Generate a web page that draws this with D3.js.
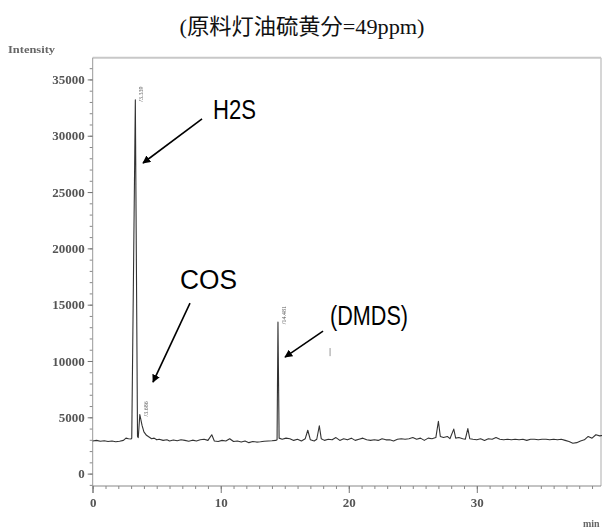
<!DOCTYPE html>
<html>
<head>
<meta charset="utf-8">
<script src="https://cdn.jsdelivr.net/npm/d3@7"></script>
<style>
  body { margin: 0; background: #fff; }
  svg { display: block; }
</style>
</head>
<body>
<div id="chart"></div>
<script>
// Chromatogram (sulfur detector)
const titleText = '(原料灯油硫黄分=49ppm)';

// [retention time (min), intensity]
const tracePoints = [
  [0, 2900], [0.3, 2950], [0.6, 2880], [0.9, 2920], [1.2, 2850], [1.5, 2900], [1.8, 2830],
  [2.1, 2880], [2.4, 2950], [2.6, 3150], [2.8, 3100], [3.0, 3080],
  [3.05, 3150], [3.33, 33200], [3.5, 3300], [3.56, 3200],
  [3.68, 5250], [3.85, 4300], [4.0, 3700], [4.2, 3400], [4.4, 3250], [4.6, 3100], [4.8, 3150],
  [5.0, 3000], [5.2, 3050], [5.5, 2950], [5.8, 3000], [6.0, 2900], [6.3, 2980], [6.6, 2920],
  [6.9, 3000], [7.2, 2950], [7.5, 2880], [7.8, 2970], [8.1, 2900], [8.4, 3000], [8.7, 3050],
  [9.0, 2950], [9.3, 3450], [9.5, 2900], [9.8, 2850], [10.1, 2950], [10.4, 2900], [10.7, 3100],
  [11.0, 2850], [11.3, 2900], [11.6, 2800], [11.9, 2900], [12.2, 2750], [12.5, 2850], [12.8, 2800],
  [13.1, 2830], [13.4, 2880], [13.7, 2900], [14.0, 2920], [14.3, 2950],
  [14.40, 3000], [14.47, 13450], [14.56, 3150],
  [14.8, 3050], [15.1, 3150], [15.4, 3100], [15.7, 2950], [16.0, 3050], [16.3, 2900], [16.6, 3100],
  [16.8, 3850], [17.0, 3000], [17.3, 2900], [17.5, 3050], [17.7, 4250], [17.85, 3100], [18.1, 2950],
  [18.4, 3050], [18.7, 3000], [19.0, 3200], [19.3, 2950], [19.6, 3100], [19.9, 3000], [20.2, 3150],
  [20.5, 2950], [20.8, 3050], [21.1, 3150], [21.4, 3000], [21.7, 2950], [22.0, 3000], [22.3, 2950],
  [22.6, 3100], [22.9, 3000], [23.2, 3000], [23.5, 2900], [23.8, 3050], [24.1, 3100], [24.4, 3050],
  [24.7, 3100], [25.0, 3200], [25.3, 3050], [25.6, 3150], [25.9, 2950], [26.2, 3150], [26.5, 3100],
  [26.8, 3200], [27.0, 4650], [27.15, 3300], [27.4, 3200], [27.7, 3300], [27.9, 3100], [28.2, 3950],
  [28.35, 3150], [28.6, 3200], [28.9, 3100], [29.1, 3050], [29.3, 4000], [29.45, 3100], [29.7, 3050],
  [30.0, 3000], [30.3, 3100], [30.6, 2950], [30.9, 3100], [31.2, 3050], [31.5, 3200], [31.8, 3050],
  [32.1, 3000], [32.4, 3050], [32.7, 3000], [33.0, 3050], [33.3, 3000], [33.6, 3050], [33.9, 2950],
  [34.2, 3050], [34.5, 3050], [34.8, 3000], [35.1, 3050], [35.4, 3050], [35.7, 3000], [36.0, 3050],
  [36.3, 3000], [36.6, 3050], [36.9, 2950], [37.2, 2850], [37.5, 2700], [37.8, 2750], [38.1, 2900],
  [38.4, 3000], [38.7, 3300], [39.0, 3150], [39.3, 3450], [39.6, 3350], [39.9, 3400]
];

// peak tops with their retention time labels
const peakTimes = [3.33, 3.68, 14.47];
const peakHeights = [33200, 5250, 13450];
const peakLabels = ['/3.339', '/3.686', '/14.481'];

// compound callouts: text anchor, arrow tail, arrow tip (min, intensity)
const calloutNames = ['H2S', 'COS', '(DMDS)'];
const calloutText = [[9.40, 31450], [6.82, 16390], [18.54, 13190]];
const calloutTextWidth = [43, 57, 78];
const calloutTail = [[8.54, 31500], [7.60, 15140], [17.99, 12650]];
const calloutTip = [[3.93, 27580], [4.71, 8130], [15.02, 10350]];

const xMajorTicks = [0, 10, 20, 30];
const yMajorTicks = [0, 5000, 10000, 15000, 20000, 25000, 30000, 35000];

const width = 602, height = 532;

const svg = d3.select('#chart').append('svg')
  .attr('width', width)
  .attr('height', height);

const x = d3.scaleLinear().domain([0, 39.7]).range([92.7, 601]);
const y = d3.scaleLinear().domain([-1100, 36930]).range([486, 57.7]);

const serif = '"Liberation Serif", "DejaVu Serif", serif';

// soft blur to mimic the scanned printout
const defs = svg.append('defs');
defs.append('filter').attr('id', 'soft')
  .append('feGaussianBlur').attr('stdDeviation', 0.45);
defs.append('marker')
  .attr('id', 'arrow')
  .attr('viewBox', '0 0 10 10')
  .attr('refX', 9).attr('refY', 5)
  .attr('markerWidth', 8).attr('markerHeight', 8)
  .attr('markerUnits', 'userSpaceOnUse')
  .attr('orient', 'auto')
  .append('path')
  .attr('d', 'M0,0 L10,5 L0,10 z')
  .attr('fill', '#000');

// title
svg.append('text')
  .attr('x', 302)
  .attr('y', 34)
  .attr('text-anchor', 'middle')
  .attr('textLength', 245)
  .attr('lengthAdjust', 'spacingAndGlyphs')
  .style('font-family', '"Liberation Serif", "Noto Sans CJK JP", serif')
  .style('font-size', '22px')
  .style('fill', '#111')
  .text(titleText);

const plot = svg.append('g').attr('filter', 'url(#soft)');

// frame (top and right)
plot.append('line')
  .attr('x1', x.range()[0]).attr('x2', x.range()[1])
  .attr('y1', y.range()[1]).attr('y2', y.range()[1])
  .attr('stroke', '#c8c8c8').attr('stroke-width', 2);
plot.append('line')
  .attr('x1', x.range()[1]).attr('x2', x.range()[1])
  .attr('y1', y.range()[1]).attr('y2', y.range()[0])
  .attr('stroke', '#c8c8c8').attr('stroke-width', 1.5);

// y axis: minor ticks every 1000, labelled every 5000
plot.append('g')
  .attr('transform', `translate(${x.range()[0]},0)`)
  .call(d3.axisLeft(y).tickValues(d3.range(-1000, 36001, 1000)).tickSize(3).tickFormat(''))
  .call(g => g.select('.domain').remove())
  .call(g => g.selectAll('line').attr('stroke', '#888'));

plot.append('g')
  .attr('transform', `translate(${x.range()[0]},0)`)
  .call(d3.axisLeft(y).tickValues(yMajorTicks).tickSize(5).tickPadding(3).tickFormat(d3.format('d')).tickSizeOuter(0))
  .call(g => g.select('.domain').attr('stroke', '#999').attr('d', `M0,${y.range()[1]}V${y.range()[0] + 7}`))
  .call(g => g.selectAll('line').attr('stroke', '#777'))
  .call(g => g.selectAll('text')
    .style('font-family', serif)
    .style('font-size', '13px')
    .style('font-weight', 'bold')
    .style('fill', '#555'));

// x axis: minor ticks every minute, labelled every 10
plot.append('g')
  .attr('transform', `translate(0,${y.range()[0]})`)
  .call(d3.axisBottom(x).tickValues(d3.range(0, 40, 1)).tickSize(3).tickFormat(''))
  .call(g => g.select('.domain').remove())
  .call(g => g.selectAll('line').attr('stroke', '#888'));

plot.append('g')
  .attr('transform', `translate(0,${y.range()[0]})`)
  .call(d3.axisBottom(x).tickValues(xMajorTicks).tickSize(7).tickPadding(5).tickSizeOuter(0))
  .call(g => g.select('.domain').attr('stroke', '#888').attr('d', `M${x.range()[0]},0H${x.range()[1]}`))
  .call(g => g.selectAll('line').attr('stroke', '#777'))
  .call(g => g.selectAll('text')
    .style('font-family', serif)
    .style('font-size', '13px')
    .style('font-weight', 'bold')
    .style('fill', '#555'));

// axis captions
plot.append('text')
  .attr('x', 8).attr('y', 53)
  .attr('textLength', 47)
  .attr('lengthAdjust', 'spacingAndGlyphs')
  .style('font-family', serif)
  .style('font-size', '11px')
  .style('font-weight', 'bold')
  .style('fill', '#666')
  .text('Intensity');

plot.append('text')
  .attr('x', 583).attr('y', 527)
  .style('font-family', serif)
  .style('font-size', '10px')
  .style('font-weight', 'bold')
  .style('fill', '#666')
  .text('min');

// chromatogram trace
const line = d3.line()
  .x(d => x(d[0]))
  .y(d => y(d[1]));

plot.append('path')
  .datum(tracePoints)
  .attr('d', line)
  .attr('fill', 'none')
  .attr('stroke', '#333')
  .attr('stroke-width', 1.1)
  .attr('stroke-linejoin', 'round');

// retention time labels beside the peak tops
plot.selectAll('.rt')
  .data(peakTimes)
  .join('text')
  .attr('class', 'rt')
  .attr('transform', (d, i) => `translate(${x(d) + 8},${y(peakHeights[i]) + 2}) rotate(-90)`)
  .style('font-family', serif)
  .style('font-size', '6px')
  .style('fill', '#555')
  .text((d, i) => peakLabels[i]);

// compound callouts with arrows
const notes = svg.append('g');

notes.selectAll('.callout-arrow')
  .data(calloutNames)
  .join('line')
  .attr('class', 'callout-arrow')
  .attr('x1', (d, i) => x(calloutTail[i][0]))
  .attr('y1', (d, i) => y(calloutTail[i][1]))
  .attr('x2', (d, i) => x(calloutTip[i][0]))
  .attr('y2', (d, i) => y(calloutTip[i][1]))
  .attr('stroke', '#000')
  .attr('stroke-width', 1.6)
  .attr('marker-end', 'url(#arrow)');

notes.selectAll('.callout-text')
  .data(calloutNames)
  .join('text')
  .attr('class', 'callout-text')
  .attr('x', (d, i) => x(calloutText[i][0]))
  .attr('y', (d, i) => y(calloutText[i][1]))
  .attr('textLength', (d, i) => calloutTextWidth[i])
  .attr('lengthAdjust', 'spacingAndGlyphs')
  .style('font-family', '"Liberation Sans", Arial, sans-serif')
  .style('font-size', '27px')
  .style('fill', '#000')
  .text(d => d);

// small stray mark under the DMDS label
notes.append('line')
  .attr('x1', x(18.54)).attr('x2', x(18.54))
  .attr('y1', y(11150)).attr('y2', y(10430))
  .attr('stroke', '#999')
  .attr('stroke-width', 1);
</script>
</body>
</html>
